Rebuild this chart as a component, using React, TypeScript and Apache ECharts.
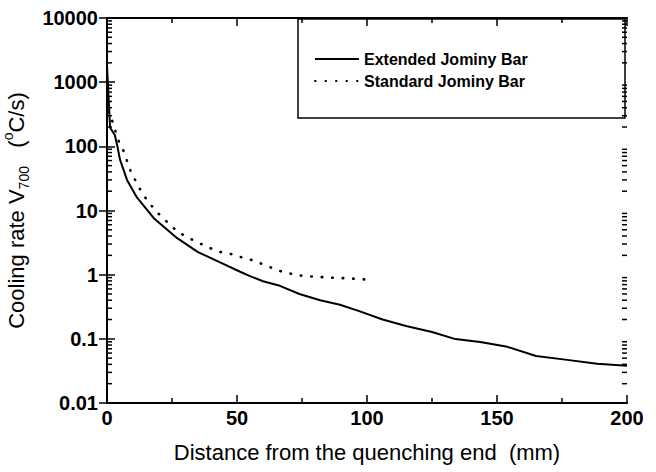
import React, { useEffect, useRef } from "react";
import * as echarts from "echarts";

const extendedX = [0, 1.2, 3, 4, 5, 7.7, 11.5, 18, 27, 35, 43.5, 51, 55, 60, 66.5, 74, 82, 89.6, 97, 106, 115, 125, 134, 143.5, 154, 165, 177, 188.5, 200];
const extendedY = [1800, 195, 150, 100, 62, 30, 16, 7.6, 3.7, 2.25, 1.55, 1.12, 0.95, 0.79, 0.67, 0.5, 0.4, 0.34, 0.27, 0.2, 0.158, 0.128, 0.099, 0.089, 0.075, 0.054, 0.047, 0.041, 0.038];

const standardX = [0.3, 1.9, 3.1, 4.6, 6.2, 7.7, 9.2, 11.2, 13.5, 16.2, 19.6, 23.5, 27.3, 31.5, 35.4, 39.6, 43.5, 47.7, 51.5, 55.8, 59.6, 63.5, 67.7, 71.5, 75.8, 80, 84, 88, 92, 96, 100];
const standardY = [350, 257, 180, 117, 88, 59, 40, 28, 18.7, 13.1, 9.1, 6.4, 4.6, 3.73, 3.11, 2.6, 2.26, 2.1, 1.88, 1.69, 1.47, 1.27, 1.1, 1.02, 0.95, 0.93, 0.91, 0.89, 0.88, 0.86, 0.84];

const seriesNames = ["Extended Jominy Bar", "Standard Jominy Bar"];
const yTickValues = [0.01, 0.1, 1, 10, 100, 1000, 10000];
const yTickLabels = ["0.01", "0.1", "1", "10", "100", "1000", "10000"];
const yMinorValues = [
  0.02, 0.03, 0.04, 0.05, 0.06, 0.07, 0.08, 0.09,
  0.2, 0.3, 0.4, 0.5, 0.6, 0.7, 0.8, 0.9,
  2, 3, 4, 5, 6, 7, 8, 9,
  20, 30, 40, 50, 60, 70, 80, 90,
  200, 300, 400, 500, 600, 700, 800, 900,
  2000, 3000, 4000, 5000, 6000, 7000, 8000, 9000,
];

const FONT = "'Liberation Sans', Arial, Helvetica, sans-serif";

function yLabel(v: number): string {
  let best = 0;
  let bestD = Infinity;
  yTickValues.forEach((t, i) => {
    const d = Math.abs(Math.log10(v) - Math.log10(t));
    if (d < bestD) {
      bestD = d;
      best = i;
    }
  });
  return yTickLabels[best];
}

export default function App() {
  const ref = useRef<HTMLDivElement>(null);
  useEffect(() => {
    if (!ref.current) return;
    const chart = echarts.init(ref.current, undefined, { renderer: "svg" });
    const axisLine = { show: true, lineStyle: { color: "#000", width: 2 } };
    const option: any = {
      animation: false,
      backgroundColor: "#fff",
      grid: { left: 107, right: 29, top: 18, bottom: 69, containLabel: false, outerBoundsMode: "none" },
      legend: {
        orient: "vertical",
        left: 309,
        top: 44,
        itemWidth: 44,
        itemHeight: 12,
        itemGap: 2,
        data: seriesNames.map((n) => ({ name: n })),
        itemStyle: { opacity: 0 },
        textStyle: { fontFamily: FONT, fontWeight: "bold", fontSize: 16, color: "#000", lineHeight: 20, padding: [0, 0, 0, 0] },
        selectedMode: false,
      },
      xAxis: [
        {
          type: "value",
          min: 0,
          max: 200,
          interval: 50,
          position: "bottom",
          name: "Distance from the quenching end  (mm)",
          nameLocation: "middle",
          nameGap: 38,
          nameTextStyle: { fontFamily: FONT, fontSize: 22, color: "#000" },
          axisLine,
          axisTick: { show: true, inside: true, length: 8, lineStyle: { color: "#000", width: 1.5 } },
          minorTick: { show: true, splitNumber: 2, length: 5, lineStyle: { color: "#000", width: 1.5 } },
          axisLabel: { fontFamily: FONT, fontWeight: "bold", fontSize: 20, color: "#000", margin: 5 },
          splitLine: { show: false },
        },
        {
          type: "value",
          min: 0,
          max: 200,
          interval: 50,
          position: "top",
          axisLine,
          axisTick: { show: true, inside: true, length: 8, lineStyle: { color: "#000", width: 1.5 } },
          minorTick: { show: true, splitNumber: 2, length: 5, lineStyle: { color: "#000", width: 1.5 } },
          axisLabel: { show: false },
          splitLine: { show: false },
        },
      ],
      yAxis: [
        {
          type: "log",
          logBase: 10,
          min: 0.01,
          max: 10000,
          interval: 1,
          position: "left",
          name: "{a|Cooling rate V}{b|700}{a|   (}{c|o}{a|C/s)}",
          nameLocation: "middle",
          nameGap: 68,
          nameRotate: 90,
          nameTextStyle: {
            fontFamily: FONT,
            color: "#000",
            rich: {
              a: { fontFamily: FONT, fontSize: 22, color: "#000", lineHeight: 30, verticalAlign: "middle" },
              b: { fontFamily: FONT, fontSize: 14, color: "#000", lineHeight: 14, verticalAlign: "bottom" },
              c: { fontFamily: FONT, fontSize: 14, color: "#000", lineHeight: 14, verticalAlign: "top" },
            },
          },
          axisLine,
          axisTick: { show: true, inside: true, length: 8, lineStyle: { color: "#000", width: 1.5 } },
          axisLabel: {
            fontFamily: FONT,
            fontWeight: "bold",
            fontSize: 20,
            color: "#000",
            margin: 9,
            formatter: (v: number) => yLabel(v),
          },
          splitLine: { show: false },
        },
        {
          type: "log",
          logBase: 10,
          min: 0.01,
          max: 10000,
          interval: 1,
          position: "right",
          axisLine,
          axisTick: { show: true, inside: true, length: 8, lineStyle: { color: "#000", width: 1.5 } },
          axisLabel: { show: false },
          splitLine: { show: false },
        },
      ],
      series: [
        {
          name: seriesNames[0],
          type: "line",
          data: extendedX.map((x, i) => [x, extendedY[i]]),
          symbol: "none",
          lineStyle: { color: "#000", width: 2 },
          itemStyle: { color: "#000" },
        },
        {
          name: seriesNames[1],
          type: "line",
          data: standardX.map((x, i) => [x, standardY[i]]),
          symbol: "none",
          lineStyle: { color: "#000", width: 2.6, type: [0.5, 10], cap: "round" },
          itemStyle: { color: "#000" },
        },
        {
          name: "minorTicks",
          type: "custom",
          silent: true,
          z: 5,
          data: yMinorValues.map((v) => [0, v]),
          encode: { x: 0, y: 1 },
          renderItem: (params: any, api: any) => {
            const cs = params.coordSys;
            const p = api.coord([0, api.value(1)]);
            const y = p[1];
            const st = { stroke: "#000", lineWidth: 1.5 };
            return {
              type: "group",
              children: [
                { type: "line", shape: { x1: cs.x, y1: y, x2: cs.x + 5, y2: y }, style: st },
                { type: "line", shape: { x1: cs.x + cs.width - 5, y1: y, x2: cs.x + cs.width, y2: y }, style: st },
              ],
            };
          },
          clip: false,
        },
      ],
      graphic: [
        {
          type: "rect",
          shape: { x: 298, y: 19, width: 327, height: 99 },
          style: { fill: "transparent", stroke: "#000", lineWidth: 1.5 },
          silent: true,
        },
      ],
    };
    chart.setOption(option);
    return () => chart.dispose();
  }, []);
  return <div ref={ref} style={{ position: "fixed", left: 0, top: 0, width: 656, height: 472 }} />;
}
